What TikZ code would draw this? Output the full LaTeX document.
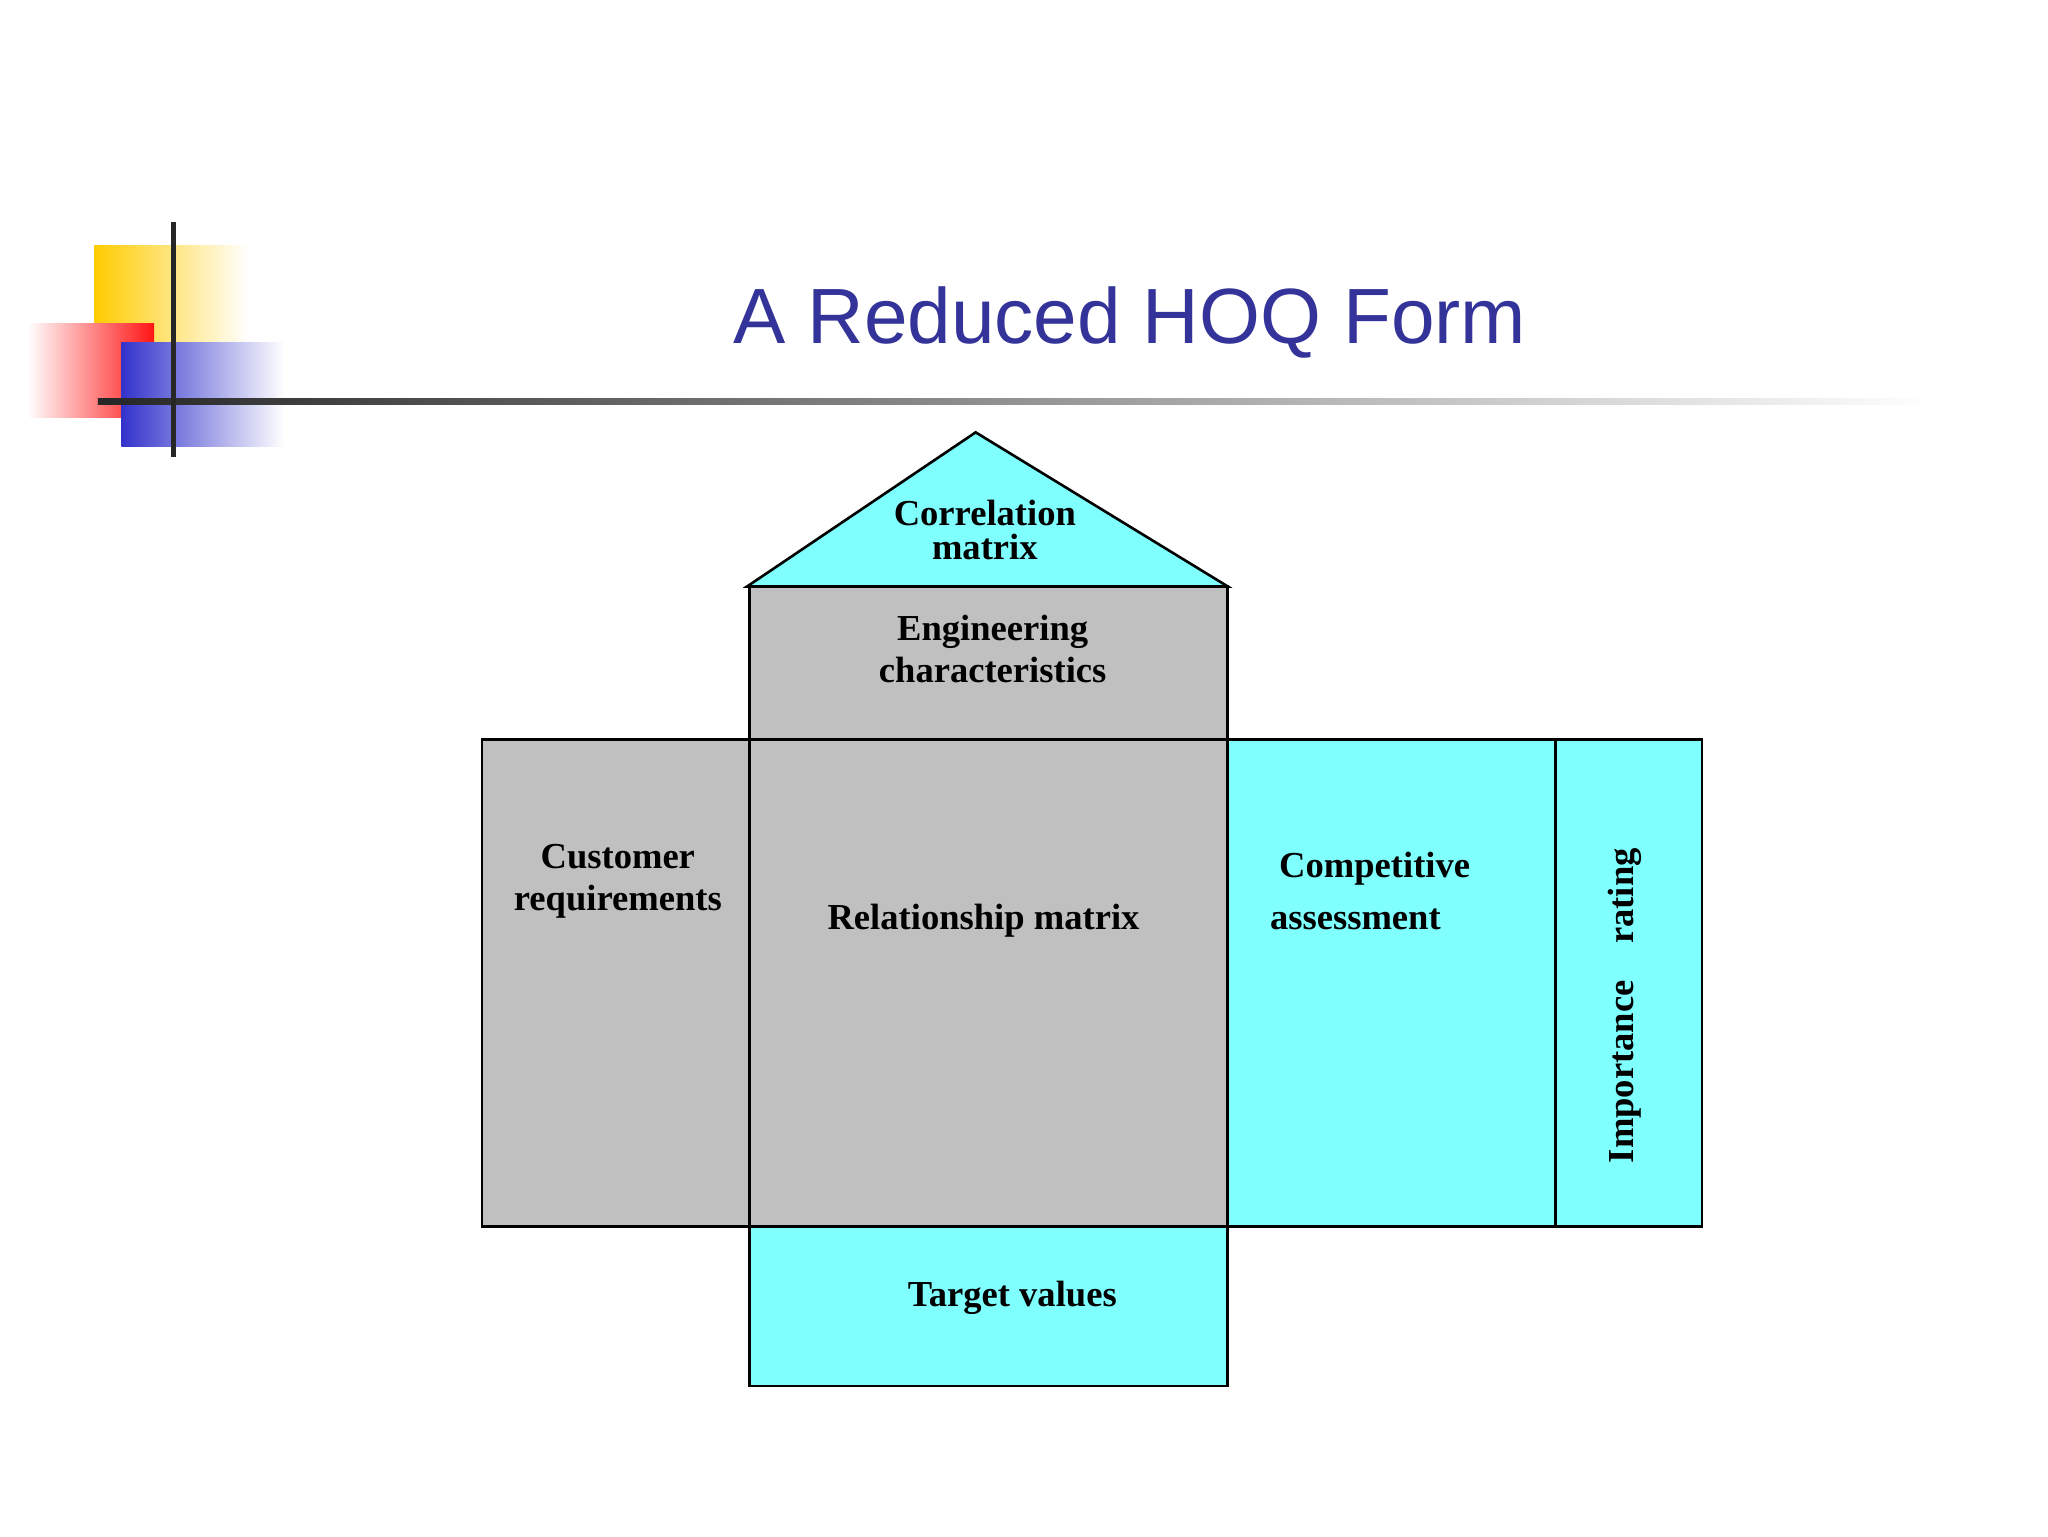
\documentclass[tikz,border=0pt]{standalone}
\usepackage{fontspec}
\setmainfont{Liberation Serif}
\newfontfamily\titlefont{Liberation Sans}
\definecolor{cy}{HTML}{80FFFF}
\definecolor{gr}{HTML}{C0C0C0}
\definecolor{tb}{RGB}{51,51,153}
\begin{document}
\begin{tikzpicture}[x=1pt,y=-1pt,
 box/.style={draw=black,line width=2pt},
 lab/.style={font=\fontsize{28}{32}\selectfont\bfseries,align=center}]
\useasboundingbox (0,0) rectangle (1568,1176);
\fill[white] (0,0) rectangle (1568,1176);
% decoration
\shade[left color={rgb,255:red,255;green,204;blue,0},right color=white] (72,188) rectangle (190,262);
\shade[left color=white,right color={rgb,255:red,255;green,20;blue,20}] (21,248) rectangle (118,320);
\shade[left color={rgb,255:red,51;green,51;blue,204},right color=white] (93,262) rectangle (218,342);
\shade[left color=black!85,right color=white] (75,305) rectangle (1480,310);
\fill[black!85] (131,170) rectangle (135,350);
\node[font=\titlefont\fontsize{60}{66}\selectfont,text=tb] (title) at (865,247) {A Reduced HOQ Form};
% house
\draw[box,fill=cy] (572,449) -- (747,331) -- (940,449) -- cycle;
\draw[box,fill=gr] (574,449) rectangle (940,566);
\draw[box,fill=gr] (369,566) rectangle (574,939);
\draw[box,fill=gr] (574,566) rectangle (940,939);
\draw[box,fill=cy] (940,566) rectangle (1191,939);
\draw[box,fill=cy] (1191,566) rectangle (1303,939);
\draw[box,fill=cy] (574,939) rectangle (940,1061);
\node[lab,inner sep=0pt] (corr) at (754,406) {Correlation\\[-6pt]matrix};
\node[lab] (eng) at (760,497) {Engineering\\characteristics};
\node[lab] (cust) at (473,675) {Customer\\requirements};
\node[lab] (rel) at (753,705) {Relationship matrix};
\node[lab,align=left] (comp) at (1049,682) {\ Competitive\\[8pt]assessment};
\node[lab,rotate=90] (imp) at (1244,770) {Importance\quad rating};
\node[lab] (targ) at (775,994) {Target values};
\end{tikzpicture}
\end{document}
